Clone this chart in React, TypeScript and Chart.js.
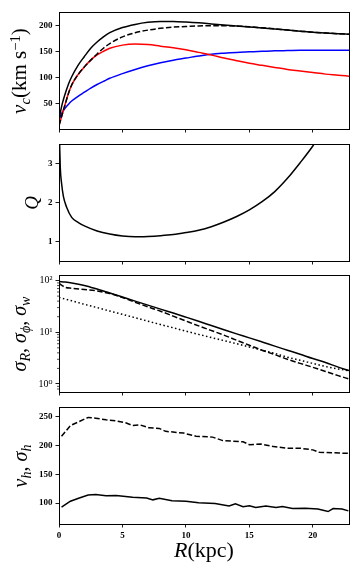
import React, { useEffect, useRef } from 'react';
import { Chart, registerables } from 'chart.js';
Chart.register(...registerables);

// ---------- data ----------
const X_TICKS = [0, 5, 10, 15, 20];
const X_MIN = 0;
const X_MAX = 22.85;

// panel 1: rotation curves
const R_VC = [0, 0.1, 0.25, 0.5, 0.75, 1, 1.5, 2, 2.5, 3, 3.5, 4, 5, 6, 7, 8, 9, 10, 11, 12, 13, 14, 15, 16, 17, 18, 19, 20, 21, 22, 22.85];
const VC_TOTAL = [18, 32, 49, 70, 88, 102, 124, 141, 157, 169, 179, 187, 197, 203, 207, 208.8, 208.6, 207.5, 206, 204, 202, 200, 198, 196, 194, 192, 190, 188, 186.5, 185, 184];
const VC_MEASURED = [8, 16, 29, 50, 70, 86, 106, 121, 134, 146, 157, 166, 179, 187, 192, 195.5, 198, 199, 200, 200.5, 200.5, 200, 198.5, 196.5, 194.5, 192, 190, 188, 186.5, 185, 184];
const VC_DISK = [8, 16, 29, 50, 70, 86, 106, 121, 134, 144, 151, 157, 163, 165, 164, 161, 158, 154, 149, 144, 138, 133, 128, 124, 120, 116, 113, 110, 107, 105, 103];
const VC_HALO = [16, 25, 33, 42, 49, 55, 64, 72, 80, 87, 93, 99, 108, 116, 123, 129, 134, 138, 142, 145.5, 147.5, 149, 150, 151, 152, 152.5, 153, 153, 153, 153, 153];
const VC_TICKS = [50, 100, 150, 200];

// panel 2: Toomre Q
const R_Q = [0, 0.05, 0.1, 0.2, 0.35, 0.6, 1, 1.5, 2, 3, 4, 5, 6, 7, 8, 9, 10, 11, 12, 13, 14, 15, 16, 17, 18, 19, 20, 20.5];
const Q_VALS = [4.2, 3.5, 2.9, 2.5, 2.15, 1.88, 1.62, 1.49, 1.4, 1.27, 1.19, 1.14, 1.12, 1.13, 1.15, 1.18, 1.23, 1.29, 1.38, 1.5, 1.64, 1.81, 2.02, 2.28, 2.62, 3.02, 3.45, 3.7];
const Q_TICKS = [1, 2, 3];

// panel 3: velocity dispersions
const R_SIG = [0, 0.5, 1, 2, 3, 4, 5, 6, 7, 8, 9, 10, 11, 12, 13, 14, 15, 16, 17, 18, 19, 20, 21, 22, 22.85];
const SIG_R = [96, 93.5, 90, 80.5, 68.5, 57.5, 48, 40, 33.5, 28, 23.5, 19.6, 16.3, 13.5, 11.2, 9.3, 7.8, 6.5, 5.4, 4.5, 3.75, 3.1, 2.6, 2.12, 1.82];
const SIG_PHI = [88, 74, 71, 67, 63, 56, 47, 38, 31, 25.5, 20.5, 16.5, 13.3, 10.8, 8.8, 7.0, 5.6, 4.5, 3.7, 3.0, 2.5, 2.1, 1.75, 1.45, 1.25];
const SIG_W = [47, 43.7, 40.7, 34.7, 30.0, 25.7, 22.2, 19.1, 16.4, 14.1, 12.2, 10.5, 9.1, 7.9, 6.9, 6.0, 5.2, 4.5, 3.9, 3.3, 2.87, 2.5, 2.18, 1.95, 1.8];
const SIG_TICKS = [1, 10, 100];
const SIG_MINOR = [0.8, 0.9, 2, 3, 4, 5, 6, 7, 8, 9, 20, 30, 40, 50, 60, 70, 80, 90];

// panel 4: halo rotation and dispersion
const R_VH = [0.2, 0.9, 1.6, 2.3, 2.9, 3.7, 4.5, 5.3, 5.8, 6.4, 7.1, 7.9, 8.4, 9.8, 10.8, 12.1, 12.9, 13.7, 14.5, 15.0, 15.9, 16.9, 17.9, 19.0, 20.0, 20.5, 21.5, 22.8];
const VH_VALS = [215.5, 234, 241, 248, 246.5, 244, 242, 238.4, 234, 235, 230, 229, 224, 221, 215.5, 214, 208, 207, 206, 201, 202, 197.6, 195, 194.8, 192, 188, 187, 186];
const R_SH = [0.2, 0.9, 1.6, 2.3, 2.9, 3.7, 4.5, 5.8, 6.9, 7.4, 7.9, 8.9, 10.0, 11.0, 12.3, 13.4, 13.9, 14.5, 15.0, 15.5, 16.3, 17.1, 17.6, 18.4, 19.4, 20.4, 21.2, 21.6, 22.3, 22.8];
const SH_VALS = [93, 103.4, 109, 114, 115, 112.6, 113, 110, 109, 105.7, 108.6, 104, 103.4, 100.5, 99.4, 95, 98.8, 94, 95.3, 92.4, 95, 92.4, 94, 90.7, 91.4, 90, 85.5, 90.7, 90, 86.7];
const VH_TICKS = [100, 150, 200, 250];

// ---------- layout ----------
const W = 360;
const LEFT = 59;
const RIGHT = 349;
const PANEL_H = 117;
const PANEL_TOPS = [12, 144, 275, 407];

const pts = (xs: number[], ys: number[]) => xs.map((x, i) => ({ x, y: ys[i] }));

const framePlugin = {
  id: 'frame',
  afterDatasetsDraw(chart: any, _args: any, opts: any) {
    const { ctx, chartArea: a, scales } = chart;
    ctx.save();
    ctx.strokeStyle = '#000';
    ctx.lineWidth = 1;
    ctx.strokeRect(Math.floor(a.left) + 0.5, Math.floor(a.top) + 0.5, Math.round(a.right - a.left), Math.round(a.bottom - a.top));
    const minors: number[] = (opts && opts.minors) || [];
    ctx.lineWidth = 0.7;
    minors.forEach((v) => {
      const y = scales.y.getPixelForValue(v);
      if (y < a.top || y > a.bottom) return;
      ctx.beginPath();
      ctx.moveTo(a.left, y);
      ctx.lineTo(a.left - 2, y);
      ctx.stroke();
    });
    ctx.restore();
  },
};

const tickFont = { family: 'Liberation Serif, DejaVu Serif, serif', size: 9, weight: 'bold' as const };
const supDigits: Record<string, string> = { '0': '\u2070', '1': '\u00b9', '2': '\u00b2' };

type PanelProps = {
  top: number;
  padTop: number;
  padBottom: number;
  datasets: any[];
  yType: 'linear' | 'logarithmic';
  yMin: number;
  yMax: number;
  yTicks: number[];
  yMinor?: number[];
  xLabels: boolean;
};

function Panel(p: PanelProps) {
  const ref = useRef<HTMLCanvasElement>(null);
  const h = p.padTop + PANEL_H + p.padBottom;
  useEffect(() => {
    const canvas = ref.current!;
    const gridOpts = {
      display: true,
      drawOnChartArea: false,
      drawTicks: true,
      tickLength: 3.5,
      tickColor: '#000',
      tickWidth: 0.9,
    };
    const chart = new Chart(canvas, {
      type: 'line',
      data: { datasets: p.datasets },
      options: {
        animation: false,
        responsive: false,
        maintainAspectRatio: false,
        devicePixelRatio: 1,
        layout: { padding: { left: 0, right: W - RIGHT, top: p.padTop, bottom: 0 } },
        plugins: {
          legend: { display: false },
          tooltip: { enabled: false },
          // @ts-ignore
          frame: { minors: p.yMinor || [] },
        },
        elements: { point: { radius: 0 } },
        scales: {
          x: {
            type: 'linear',
            min: X_MIN,
            max: X_MAX,
            afterFit: (s: any) => {
              s.height = p.padBottom;
            },
            afterBuildTicks: (s: any) => {
              s.ticks = X_TICKS.map((v) => ({ value: v }));
            },
            grid: gridOpts,
            border: { display: false },
            ticks: {
              display: p.xLabels,
              padding: 3,
              color: '#000',
              font: tickFont,
              maxRotation: 0,
              autoSkip: false,
              callback: (v: any) => String(v),
            },
          },
          y: {
            type: p.yType,
            min: p.yMin,
            max: p.yMax,
            afterFit: (s: any) => {
              s.width = LEFT;
            },
            afterBuildTicks: (s: any) => {
              s.ticks = p.yTicks.map((v) => ({ value: v, major: true }));
            },
            grid: gridOpts,
            border: { display: false },
            ticks: {
              padding: 3,
              color: '#000',
              autoSkip: false,
              font:
                p.yType === 'logarithmic'
                  ? { family: 'Liberation Serif, DejaVu Serif, serif', size: 10, weight: 'normal' as const }
                  : tickFont,
              callback: (v: any) => {
                if (p.yType === 'logarithmic') {
                  const e = Math.round(Math.log10(Number(v)));
                  return '10' + (supDigits[String(e)] || '');
                }
                return String(v);
              },
            },
          },
        },
      } as any,
      plugins: [framePlugin],
    });
    return () => chart.destroy();
  }, []);
  return (
    <canvas
      ref={ref}
      width={W}
      height={h}
      style={{ position: 'absolute', left: 0, top: p.top - p.padTop, width: W, height: h, display: 'block' }}
    />
  );
}

const LW = 1.5;
const DASH = [5.5, 2.4];
const DOT = [1.5, 2.5];

function YLabel({ cx, cy, size, children }: { cx: number; cy: number; size: number; children: React.ReactNode }) {
  return (
    <div
      style={{
        position: 'absolute',
        left: cx,
        top: cy,
        transform: 'translate(-50%,-50%) rotate(-90deg)',
        fontSize: size,
        whiteSpace: 'nowrap',
        lineHeight: 1,
        fontFamily: 'Liberation Serif, DejaVu Serif, serif',
        color: '#000',
      }}
    >
      {children}
    </div>
  );
}

const Sub = ({ children }: { children: React.ReactNode }) => (
  <span style={{ fontSize: '0.7em', verticalAlign: '-0.25em' }}>{children}</span>
);
const Sup = ({ children }: { children: React.ReactNode }) => (
  <span style={{ fontSize: '0.7em', verticalAlign: '0.45em' }}>{children}</span>
);

export default function App() {
  const line = (data: any[], color: string, dash: number[] = [], smooth = true) => ({
    data,
    borderColor: color,
    borderWidth: LW,
    borderDash: dash,
    fill: false,
    pointRadius: 0,
    cubicInterpolationMode: smooth ? 'monotone' : 'default',
    tension: 0,
  });

  const ds1 = [
    line(pts(R_VC, VC_MEASURED), '#000', DASH),
    line(pts(R_VC, VC_TOTAL), '#000'),
    line(pts(R_VC, VC_DISK), '#ff0000'),
    line(pts(R_VC, VC_HALO), '#0000ff'),
  ];
  const ds2 = [line(pts(R_Q, Q_VALS), '#000')];
  const ds3 = [
    line(pts(R_SIG, SIG_R), '#000'),
    line(pts(R_SIG, SIG_PHI), '#000', DASH),
    line(pts(R_SIG, SIG_W), '#000', DOT),
  ];
  const ds4 = [
    line(pts(R_VH, VH_VALS), '#000', DASH, false),
    line(pts(R_SH, SH_VALS), '#000', [], false),
  ];

  const mid = (i: number) => PANEL_TOPS[i] + PANEL_H / 2;

  return (
    <div style={{ position: 'absolute', left: 0, top: 0, width: W, height: 576, background: '#fff', overflow: 'hidden' }}>
      <Panel top={PANEL_TOPS[0]} padTop={10} padBottom={12} datasets={ds1} yType="linear" yMin={1} yMax={227} yTicks={VC_TICKS} xLabels={false} />
      <Panel top={PANEL_TOPS[1]} padTop={10} padBottom={12} datasets={ds2} yType="linear" yMin={0.5} yMax={3.5} yTicks={Q_TICKS} xLabels={false} />
      <Panel top={PANEL_TOPS[2]} padTop={10} padBottom={12} datasets={ds3} yType="logarithmic" yMin={0.71} yMax={128} yTicks={SIG_TICKS} yMinor={SIG_MINOR} xLabels={false} />
      <Panel top={PANEL_TOPS[3]} padTop={10} padBottom={24} datasets={ds4} yType="linear" yMin={64} yMax={266} yTicks={VH_TICKS} xLabels={true} />

      <YLabel cx={20} cy={mid(0)} size={21}>
        <i>v</i>
        <Sub>
          <i>c</i>
        </Sub>
        (km s<Sup>{'\u22121'}</Sup>)
      </YLabel>
      <YLabel cx={31} cy={mid(1)} size={19}>
        <i>Q</i>
      </YLabel>
      <YLabel cx={21} cy={mid(2)} size={20}>
        <i>σ</i>
        <Sub>
          <i>R</i>
        </Sub>
        , <i>σ</i>
        <Sub>
          <i>ϕ</i>
        </Sub>
        , <i>σ</i>
        <Sub>
          <i>w</i>
        </Sub>
      </YLabel>
      <YLabel cx={22} cy={mid(3)} size={20}>
        <i>v</i>
        <Sub>
          <i>h</i>
        </Sub>
        , <i>σ</i>
        <Sub>
          <i>h</i>
        </Sub>
      </YLabel>
      <div
        style={{
          position: 'absolute',
          left: (LEFT + RIGHT) / 2,
          top: 550,
          transform: 'translate(-50%,-50%)',
          fontSize: 22,
          lineHeight: 1,
          whiteSpace: 'nowrap',
          fontFamily: 'Liberation Serif, DejaVu Serif, serif',
          color: '#000',
        }}
      >
        <i>R</i>(kpc)
      </div>
    </div>
  );
}
